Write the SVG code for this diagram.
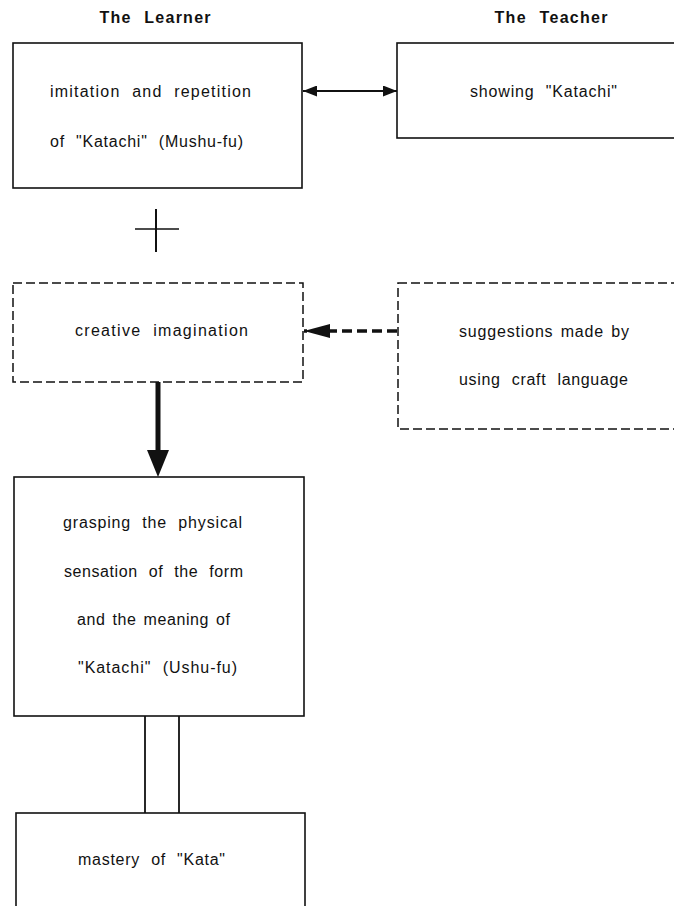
<svg xmlns="http://www.w3.org/2000/svg" width="674" height="906" viewBox="0 0 674 906">
<defs>
<style>
.box{fill:none;stroke:#111;stroke-width:1.6}
.dbox{fill:none;stroke:#111;stroke-width:1.5;stroke-dasharray:9 4}
.t{font-family:"Liberation Sans",Arial,sans-serif;font-size:16px;fill:#111;word-spacing:6px}
.h{font-family:"Liberation Sans",Arial,sans-serif;font-size:16px;font-weight:bold;fill:#111;word-spacing:7px}
.c{text-anchor:middle}
</style>
<marker id="ah" viewBox="0 0 14 11" refX="14" refY="5.5" markerWidth="14" markerHeight="11" markerUnits="userSpaceOnUse" orient="auto-start-reverse">
<path d="M0,0 L14,5.5 L0,11 Z" fill="#111"/>
</marker>
<marker id="ahd" viewBox="0 0 26 14" refX="26" refY="7" markerWidth="26" markerHeight="14" markerUnits="userSpaceOnUse" orient="auto">
<path d="M0,0 L26,7 L0,14 Z" fill="#111"/>
</marker>
</defs>

<g id="headers">
<text class="h c" x="155" y="23" textLength="111" lengthAdjust="spacing">The Learner</text>
<text class="h c" x="551" y="23" textLength="113" lengthAdjust="spacing">The Teacher</text>
</g>

<g id="learner-imitation">
<rect class="box" x="13" y="43" width="289" height="145"/>
<text class="t" x="50" y="97" textLength="201" lengthAdjust="spacing">imitation and repetition</text>
<text class="t" x="50" y="147" textLength="193" lengthAdjust="spacing">of "Katachi" (Mushu-fu)</text>
</g>

<g id="teacher-showing">
<rect class="box" x="397" y="43" width="290" height="95"/>
<text class="t" x="470" y="97" textLength="147" lengthAdjust="spacing">showing "Katachi"</text>
</g>

<g id="plus">
<line x1="156" y1="209" x2="156" y2="252" stroke="#111" stroke-width="2"/>
<line x1="135" y1="229" x2="179" y2="229" stroke="#111" stroke-width="1.6"/>
</g>

<g id="learner-creative">
<rect class="dbox" x="13" y="283" width="290" height="99"/>
<text class="t" x="75" y="336" textLength="173" lengthAdjust="spacing">creative imagination</text>
</g>

<g id="teacher-suggestions">
<rect class="dbox" x="398" y="283" width="290" height="146"/>
<text class="t" x="459" y="337" textLength="170" lengthAdjust="spacing" style="word-spacing:2px">suggestions made by</text>
<text class="t" x="459" y="385" textLength="169" lengthAdjust="spacing">using craft language</text>
</g>

<g id="learner-grasping">
<rect class="box" x="14" y="477" width="290" height="239"/>
<text class="t" x="63" y="528" textLength="179" lengthAdjust="spacing">grasping the physical</text>
<text class="t" x="64" y="577" textLength="179" lengthAdjust="spacing">sensation of the form</text>
<text class="t" x="77" y="625" textLength="153" lengthAdjust="spacing" style="word-spacing:2px">and the meaning of</text>
<text class="t" x="78" y="673" textLength="159" lengthAdjust="spacing">"Katachi" (Ushu-fu)</text>
</g>

<g id="learner-mastery">
<rect class="box" x="16" y="813" width="289" height="110"/>
<text class="t" x="78" y="865" textLength="147" lengthAdjust="spacing">mastery of "Kata"</text>
</g>

<g id="connectors">
<line x1="303" y1="91" x2="397" y2="91" stroke="#111" stroke-width="2.2" marker-start="url(#ah)" marker-end="url(#ah)"/>
<line x1="397" y1="331" x2="304" y2="331" stroke="#111" stroke-width="3.5" stroke-dasharray="10 5" marker-end="url(#ahd)"/>
<line x1="158" y1="382" x2="158" y2="452" stroke="#111" stroke-width="5"/>
<path d="M147,450 L169,450 L158,477 Z" fill="#111"/>
<line x1="145" y1="716" x2="145" y2="813" stroke="#111" stroke-width="1.8"/>
<line x1="179" y1="716" x2="179" y2="813" stroke="#111" stroke-width="1.8"/>
</g>
</svg>
